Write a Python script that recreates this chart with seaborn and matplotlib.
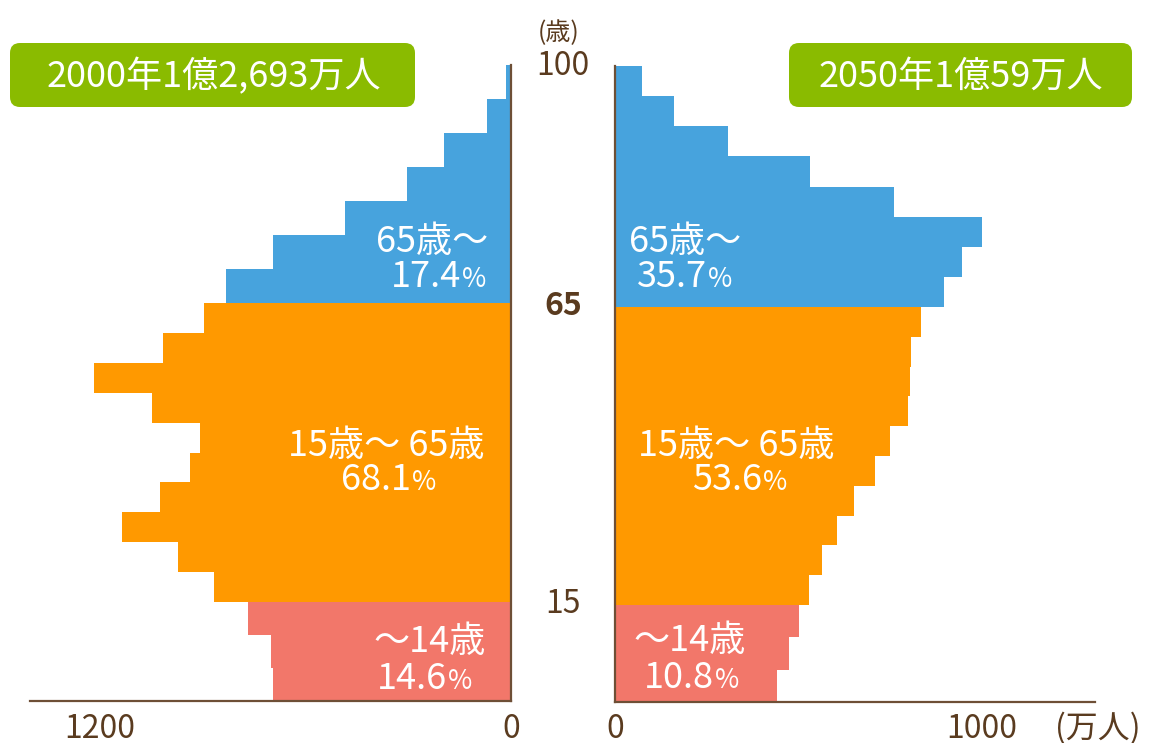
import numpy as np
import pandas as pd
import matplotlib
matplotlib.use("Agg")
import matplotlib.pyplot as plt
from matplotlib.patches import FancyBboxPatch
import seaborn as sns

# population by 5-year age class (万人)
age_2000 = list(range(0, 100, 5))          # 0-4 ... 95-99
pop_2000 = [594, 599, 656, 741, 831, 971, 876, 801, 776, 896,
            1040, 868, 766, 711, 594, 414, 259, 167, 60, 12]
age_2050 = list(range(0, 105, 5))          # 0-4 ... 100+
pop_2050 = [405, 435, 460, 485, 518, 555, 598, 650, 688, 733,
            738, 740, 765, 823, 868, 918, 698, 488, 283, 148, 68]

groups = ["0-14", "15-64", "65+"]
group_names = ["〜14歳", "15歳〜 65歳", "65歳〜"]
share_2000 = ["14.6", "68.1", "17.4"]
share_2050 = ["10.8", "53.6", "35.7"]
titles = ["2000年1億2,693万人", "2050年1億59万人"]

colors = ["#f2776a", "#ff9900", "#47a3dd"]
bands = [(0, 15), (15, 65), (65, 100)]
brown = "#5a3b1f"
green = "#8abb00"

sns.set_theme(style="white")
plt.rcParams["font.family"] = ["Noto Sans CJK JP", "DejaVu Sans"]

W, H = 1149, 743
fig = plt.figure(figsize=(W / 100, H / 100), dpi=100)
fig.patch.set_facecolor("white")


def fxy(x, y):
    return x / W, 1 - y / H


def age_scale(ax, knots):
    # the chart gives the 65+ band more room than the others
    a = np.array([-1000, 0, 15, 65, 100, 1100], float)
    p = np.array(knots, float)
    lo = -1000 * p[1] / 15
    hi = p[3] + 1000 * (p[3] - p[2]) / 35
    pk = np.r_[lo, p, hi]
    ax.set_yscale("function",
                  functions=(lambda v: np.interp(v, a, pk),
                             lambda v: np.interp(v, pk, a)))


def draw_panel(ax, ages, pops, knots, flip):
    age_scale(ax, knots)
    fwd = ax.yaxis.get_transform()
    df = pd.DataFrame({"age": ages, "pop": pops})
    df["group"] = pd.cut(df["age"], [0, 15, 65, 200], right=False, labels=groups)
    for g, (lo, hi), c in zip(groups, bands, colors):
        sub = df[df["group"] == g].copy()
        edges = np.linspace(lo, hi, len(sub) + 1)
        sub["mid"] = (edges[:-1] + edges[1:]) / 2
        # seaborn bins in the axis' scaled space
        bins = fwd.transform(edges).tolist()
        sns.histplot(data=sub, y="mid", weights="pop", bins=bins,
                     color=c, alpha=1, linewidth=0, antialiased=False, ax=ax)
    ax.set_ylim(0, 100)
    ax.set_xlim((1200, 0) if flip else (0, 1200))
    ax.set_xticks([])
    ax.set_yticks([])
    ax.minorticks_off()
    ax.set(xlabel="", ylabel="")
    if flip:
        sns.despine(ax=ax, left=True, right=False, top=True)
    else:
        sns.despine(ax=ax)
    for s in ax.spines.values():
        s.set_color("#6e4f36")
        s.set_linewidth(1.6)


axL = fig.add_axes([30 / W, 42 / H, 481 / W, 636 / H])
axR = fig.add_axes([615 / W, 41 / H, 480 / W, 636 / H])
draw_panel(axL, age_2000, pop_2000, [0, 99, 398, 636], flip=True)
draw_panel(axR, age_2050, pop_2050, [0, 97, 395, 636], flip=False)

# title boxes
for (x0, x1), t, cx in zip([(10, 415), (789, 1132)], titles, [214, 961]):
    fig.add_artist(FancyBboxPatch((x0 / 100, (H - 107) / 100), (x1 - x0) / 100, 0.64,
                                  boxstyle="round,pad=0,rounding_size=0.1",
                                  transform=fig.dpi_scale_trans, fc=green, ec="none"))
    fig.text(*fxy(cx, 87), t, ha="center", va="baseline", color="white", fontsize=26)

# group labels inside the bars: (name centre x, name baseline, split x, share baseline)
label_pos = {
    0: [(430, 652, 447, 689), (386, 456, 411, 490), (432, 252, 461, 287)],
    1: [(690, 651, 714, 688), (736, 456, 762, 490), (685, 252, 707, 287)],
}
for panel, shares in zip([0, 1], [share_2000, share_2050]):
    for name, share, (cx, b1, sx, b2) in zip(group_names, shares, label_pos[panel]):
        fig.text(*fxy(cx, b1), name, ha="center", va="baseline", color="white", fontsize=26)
        fig.text(*fxy(sx, b2), share, ha="right", va="baseline", color="white", fontsize=26)
        fig.text(*fxy(sx + 1, b2), "%", ha="left", va="baseline", color="white", fontsize=19)

# axis texts
for x, t in [(100, "1200"), (511, "0"), (615, "0"), (982, "1000"), (1098, "(万人)")]:
    fig.text(*fxy(x, 738), t, ha="center", va="baseline", color=brown, fontsize=23)
fig.text(*fxy(559, 40), "(歳)", ha="center", va="baseline", color=brown, fontsize=18)
fig.text(*fxy(563, 75), "100", ha="center", va="baseline", color=brown, fontsize=23)
fig.text(*fxy(563, 315), "65", ha="center", va="baseline", color=brown, fontsize=23,
         fontweight="bold")
fig.text(*fxy(563, 613), "15", ha="center", va="baseline", color=brown, fontsize=23)

fig.savefig("out.png", dpi=100, facecolor="white")
